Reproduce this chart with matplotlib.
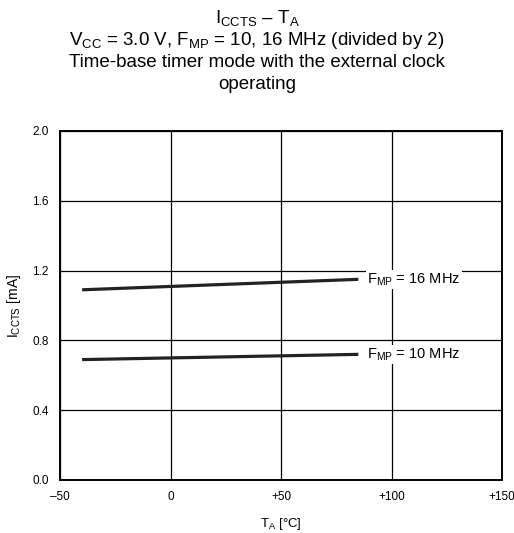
import matplotlib
matplotlib.use("Agg")
from matplotlib import pyplot as plt

plt.rcParams['font.family'] = ['Liberation Sans', 'DejaVu Sans']
plt.rcParams['mathtext.fontset'] = 'custom'
plt.rcParams['mathtext.rm'] = 'Liberation Sans'
plt.rcParams['mathtext.it'] = 'Liberation Sans'

# data
temp = [-40, 85]
icc_16mhz = [1.09, 1.15]
icc_10mhz = [0.69, 0.72]
series_labels = ["16 MHz", "10 MHz"]

x_ticks = [-50, 0, 50, 100, 150]
x_labels = ["\u201350", "0", "+50", "+100", "+150"]
y_ticks = [0.0, 0.4, 0.8, 1.2, 1.6, 2.0]
y_labels = ["0.0", "0.4", "0.8", "1.2", "1.6", "2.0"]

title_lines = [
    r'$\mathregular{I_{CCTS}}$' + ' \u2013 ' + r'$\mathregular{T_A}$',
    r'$\mathregular{V_{CC}}$ = 3.0 V, $\mathregular{F_{MP}}$ = 10, 16 MHz (divided by 2)',
    'Time-base timer mode with the external clock',
    'operating',
]
title_baselines = [23, 45, 67, 89]  # pixels from top

fig = plt.figure(figsize=(5.14, 5.33), dpi=100)
ax = fig.add_axes([60 / 514, 53 / 533, 442 / 514, 349 / 533])

ax.plot(temp, icc_16mhz, color='#222222', lw=2.3, solid_capstyle='butt')
ax.plot(temp, icc_10mhz, color='#222222', lw=2.3, solid_capstyle='butt')

for y, lab in zip([icc_16mhz[-1], icc_10mhz[-1]], series_labels):
    ax.text(89, y, r'$\mathregular{F_{MP}}$ = ' + lab, fontsize=10.5, va='center',
            ha='left', bbox=dict(facecolor='white', edgecolor='none', pad=1.0),
            zorder=5)

ax.set_xlim(-50, 150)
ax.set_ylim(0, 2.0)
ax.set_xticks(x_ticks)
ax.set_xticklabels(x_labels, fontsize=8.5)
ax.set_yticks(y_ticks)
ax.set_yticklabels(y_labels, fontsize=8.5)
ax.tick_params(length=0, pad=8)
ax.grid(True, color='black', lw=0.9)
ax.set_axisbelow(True)
for s in ax.spines.values():
    s.set_linewidth(1.4)

ax.set_xlabel(r'$\mathregular{T_A}$' + ' [\u00b0C]', fontsize=9.5, labelpad=9)
ax.set_ylabel(r'$\mathregular{I_{CCTS}}$ [mA]', fontsize=10, labelpad=7)

for line, b in zip(title_lines, title_baselines):
    fig.text(0.5, 1 - b / 533, line, ha='center', va='baseline', fontsize=13.5)

fig.savefig('out.png', dpi=100)
